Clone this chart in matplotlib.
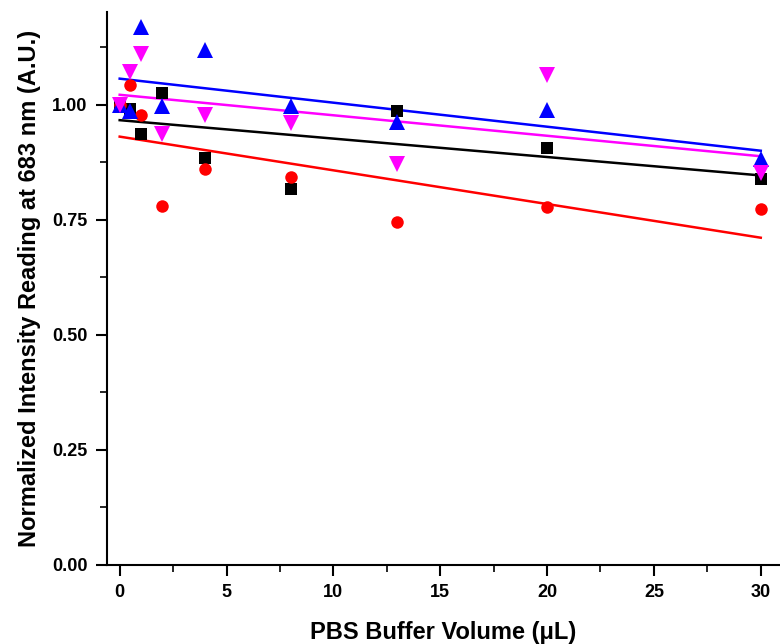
import numpy as np
import matplotlib
matplotlib.use("Agg")
import matplotlib.pyplot as plt
from matplotlib.ticker import MultipleLocator

plt.rcParams['font.family'] = ['Liberation Sans', 'DejaVu Sans']

volume = [0, 0.5, 1, 2, 4, 8, 13, 20, 30]
black_vals = [1.0, 0.99, 0.935, 1.026, 0.883, 0.816, 0.987, 0.905, 0.838]
red_vals = [1.0, 1.043, 0.978, 0.779, 0.861, 0.842, 0.745, 0.777, 0.773]
blue_vals = [1.0, 0.985, 1.169, 0.996, 1.119, 0.996, 0.961, 0.989, 0.881]
magenta_vals = [1.0, 1.071, 1.11, 0.937, 0.978, 0.959, 0.870, 1.065, 0.851]

# values, colour, marker, marker size
series = [
    (black_vals, "black", "s", 8),
    (red_vals, "red", "o", 9),
    (blue_vals, "blue", "^", 11),
    (magenta_vals, "magenta", "v", 11),
]

fig = plt.figure(figsize=(7.8, 6.44), dpi=100)
ax = fig.add_axes([0.137, 0.1227, 0.863, 0.858])

x = np.array(volume)
for vals, col, mk, ms in series:
    ax.plot(x, vals, linestyle="none", marker=mk, color=col, markersize=ms,
            markeredgewidth=0, zorder=3)
    k, b = np.polyfit(x, vals, 1)  # linear fit
    xx = np.array([0, 30])
    ax.plot(xx, k * xx + b, color=col, linewidth=1.8, zorder=2)

ax.set_xlim(-0.6, 30.9)
ax.set_ylim(0, 1.2)
ax.xaxis.set_major_locator(MultipleLocator(5))
ax.xaxis.set_minor_locator(MultipleLocator(2.5))
ax.yaxis.set_major_locator(MultipleLocator(0.25))
ax.yaxis.set_minor_locator(MultipleLocator(0.125))
ax.yaxis.set_major_formatter(plt.FormatStrFormatter("%.2f"))

for s in ["top", "right"]:
    ax.spines[s].set_visible(False)
for s in ["left", "bottom"]:
    ax.spines[s].set_linewidth(1.5)

ax.tick_params(which="major", direction="out", length=8, width=1.5, labelsize=13, pad=6)
ax.tick_params(which="minor", direction="out", length=5, width=1.2)
for lab in ax.get_xticklabels() + ax.get_yticklabels():
    lab.set_fontweight("bold")

ax.set_xlabel("PBS Buffer Volume (\u03bcL)", fontsize=17, fontweight="bold", labelpad=14)
ax.set_ylabel("Normalized Intensity Reading at 683 nm (A.U.)", fontsize=17, fontweight="bold", labelpad=8)

fig.savefig("out.png", dpi=100)
